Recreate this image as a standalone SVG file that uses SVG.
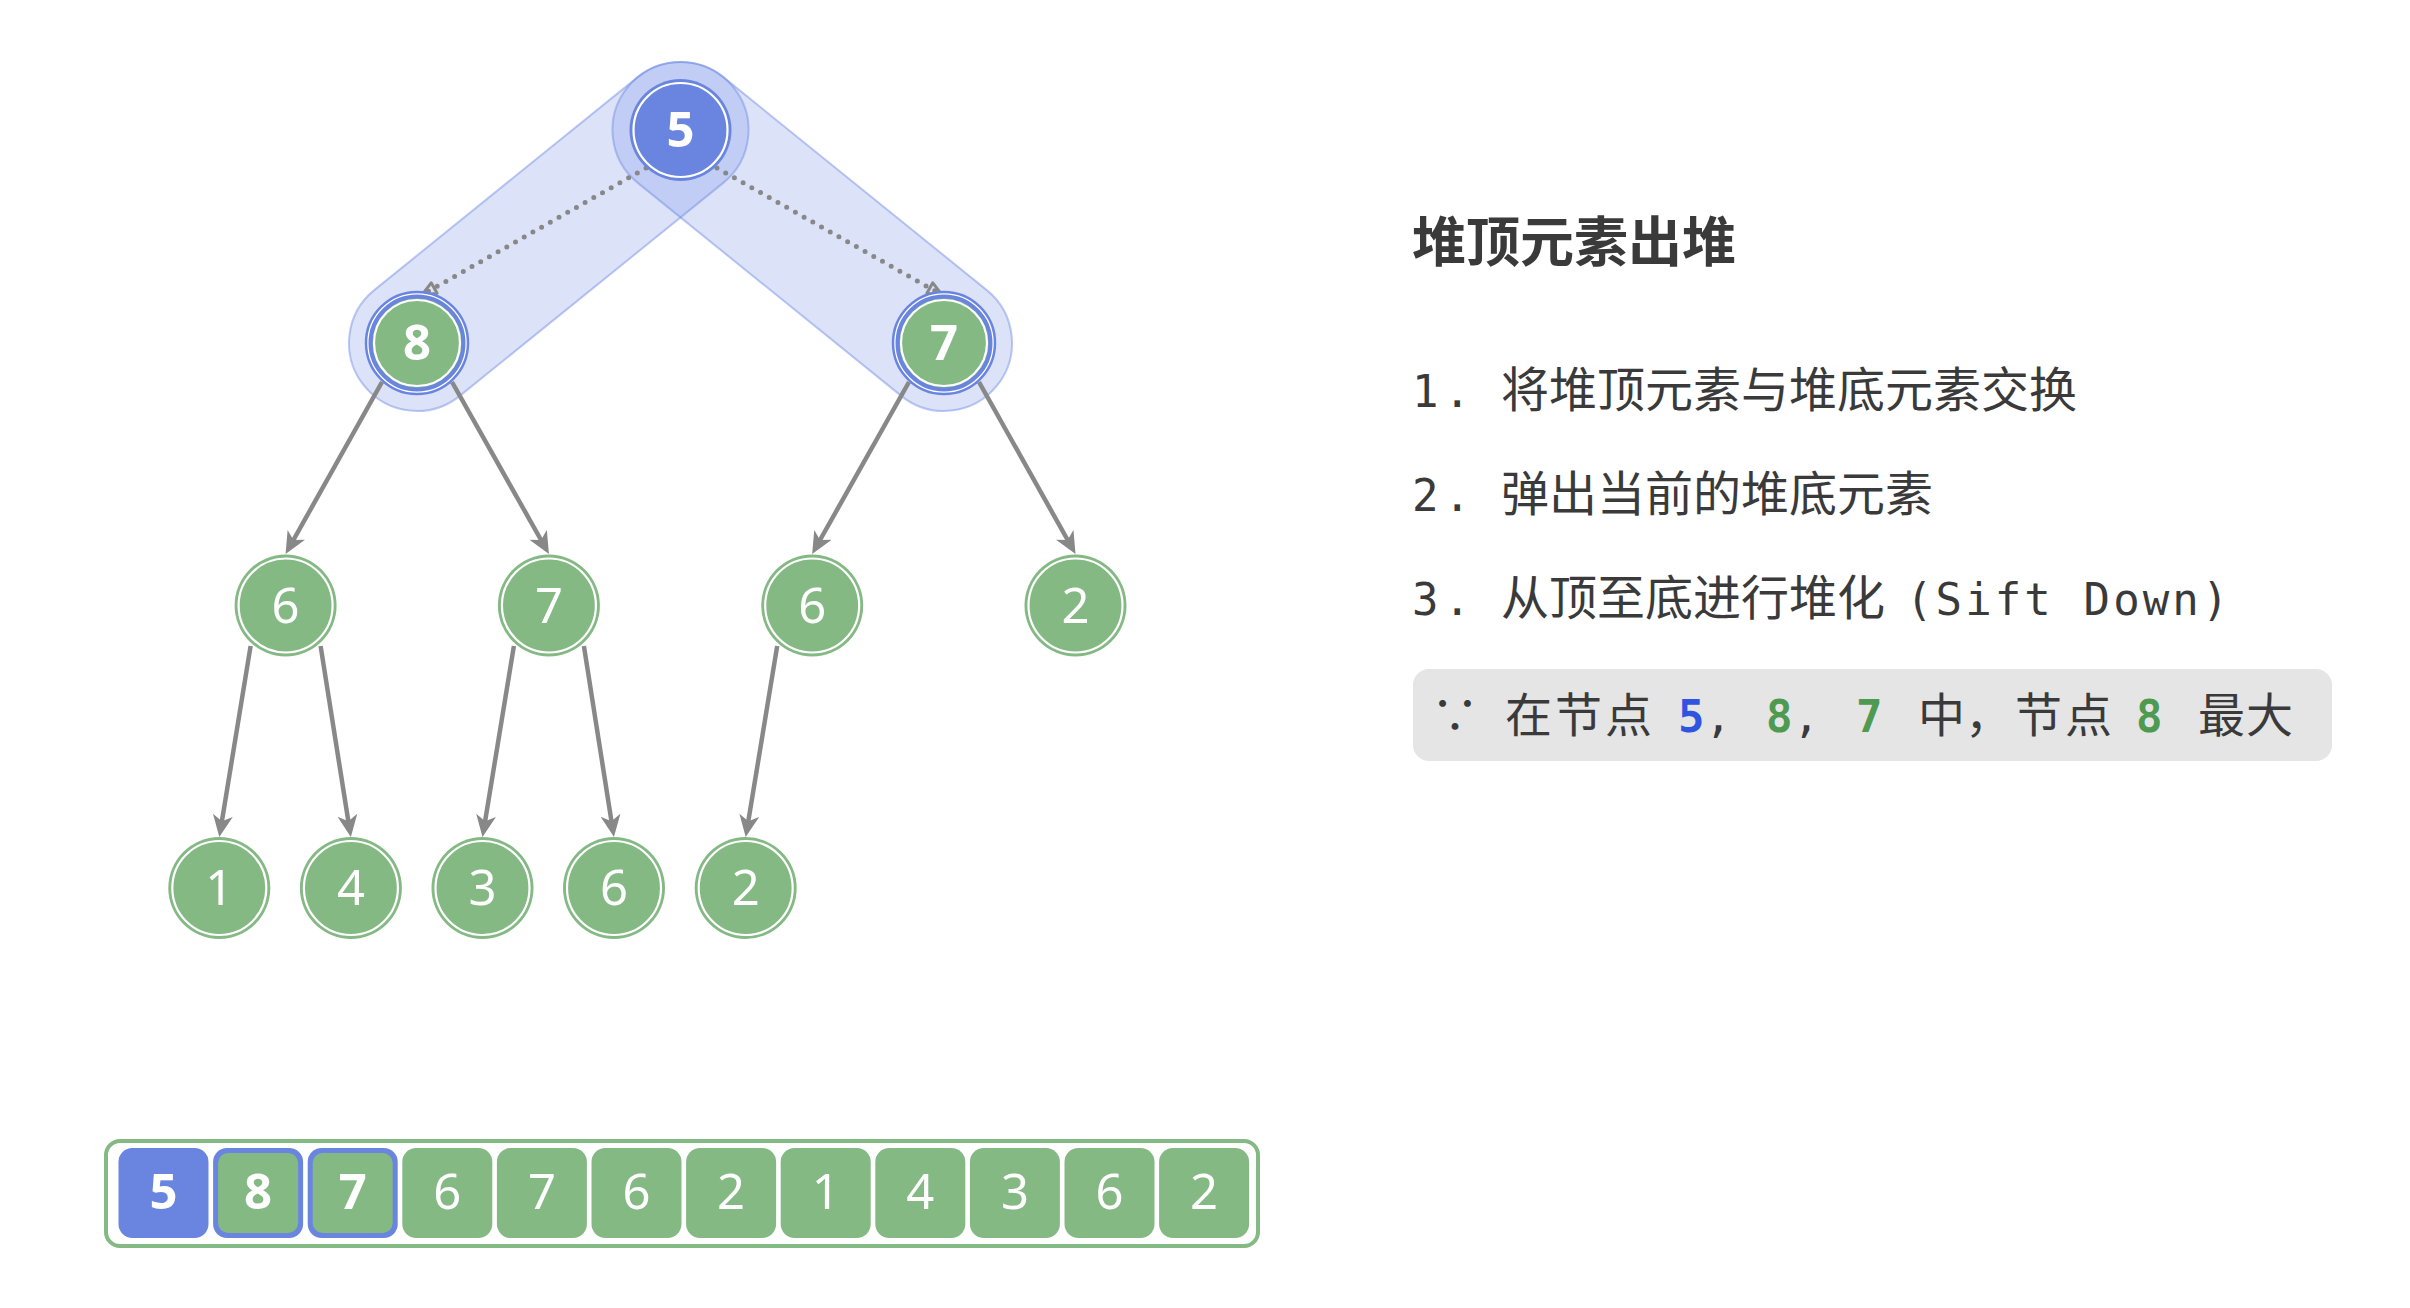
<svg xmlns="http://www.w3.org/2000/svg" width="2410" height="1308" viewBox="0 0 2410 1308">
<style>
.bg{fill:#ffffff}
.cap{fill:#6c88e4;fill-opacity:0.24;stroke:#6c88e4;stroke-opacity:0.45;stroke-width:2}
.edge{stroke:#888888;stroke-width:4.5;fill:none}
.dot{stroke:#888888;stroke-width:5;fill:none;stroke-dasharray:0 10;stroke-linecap:round}
.gfill{fill:#84b984}
.bfill{fill:#6a85e0}
.ring{fill:none;stroke:#ffffff;stroke-width:2.2}
.num{font-family:"Noto Sans","Liberation Sans",sans-serif;font-size:49px;fill:#ffffff;text-anchor:middle}
.b{font-weight:bold}
.cjk{font-family:"Noto Sans CJK SC","Noto Sans",sans-serif;fill:#3a3a3a}
.mono{font-family:"DejaVu Sans Mono","Liberation Mono",monospace;fill:#3a3a3a}
</style>
<defs>
<marker id="arr" markerUnits="userSpaceOnUse" markerWidth="24" markerHeight="22" refX="14" refY="10" orient="auto">
<path d="M0,0 L22,10 L0,20 L6,10 z" fill="#888888"/>
</marker>
<marker id="arrOpen" markerUnits="userSpaceOnUse" markerWidth="22" markerHeight="20" refX="10" refY="8" orient="auto">
<path d="M2,2 L16,8 L2,14 z" fill="none" stroke="#888888" stroke-width="3" stroke-linejoin="round"/>
</marker>
</defs>
<rect class="bg" x="0" y="0" width="2410" height="1308"/>

<g id="highlight">
<rect class="cap" x="-68" y="-68" width="474.8" height="136" rx="68" transform="translate(680.5,130) rotate(141.05)"/>
<rect class="cap" x="-68" y="-68" width="474.8" height="136" rx="68" transform="translate(680.5,130) rotate(38.95)"/>
</g>

<g id="connectors">
<path class="dot" d="M646,168 L427.2,292" marker-end="url(#arrOpen)"/>
<path class="dot" d="M717,168 L936.8,292" marker-end="url(#arrOpen)"/>
<path class="edge" d="M382,382 L289.5,547" marker-end="url(#arr)"/>
<path class="edge" d="M452,382 L545,547" marker-end="url(#arr)"/>
<path class="edge" d="M909,382 L816.1,547" marker-end="url(#arr)"/>
<path class="edge" d="M979,382 L1071.6,547" marker-end="url(#arr)"/>
<path class="edge" d="M250.6,646 L220.6,829.1" marker-end="url(#arr)"/>
<path class="edge" d="M320.6,646 L349.6,829.1" marker-end="url(#arr)"/>
<path class="edge" d="M513.9,646 L483.8,829.1" marker-end="url(#arr)"/>
<path class="edge" d="M583.9,646 L612.7,829.1" marker-end="url(#arr)"/>
<path class="edge" d="M777.2,646 L747,829.1" marker-end="url(#arr)"/>
</g>

<g id="node-root-5">
<circle class="bfill" cx="680.5" cy="130" r="51"/>
<circle class="ring" cx="680.5" cy="130" r="47"/>
<text class="num b" x="680.5" y="147">5</text>
</g>
<g id="node-8">
<circle cx="417" cy="343" r="51" fill="#ffffff" stroke="#6a85e0" stroke-width="2.5"/>
<circle class="gfill" cx="417" cy="343" r="46.5" stroke="#6a85e0" stroke-width="4"/>
<circle class="ring" cx="417" cy="343" r="43" stroke-width="1.5"/>
<text class="num b" x="417" y="360">8</text>
</g>
<g id="node-7">
<circle cx="944" cy="343" r="51" fill="#ffffff" stroke="#6a85e0" stroke-width="2.5"/>
<circle class="gfill" cx="944" cy="343" r="46.5" stroke="#6a85e0" stroke-width="4"/>
<circle class="ring" cx="944" cy="343" r="43" stroke-width="1.5"/>
<text class="num b" x="944" y="360">7</text>
</g>
<g id="node-6a">
<circle class="gfill" cx="285.6" cy="605.5" r="51"/>
<circle class="ring" cx="285.6" cy="605.5" r="47"/>
<text class="num" x="285.6" y="622.5">6</text>
</g>
<g id="node-7b">
<circle class="gfill" cx="548.9" cy="605.5" r="51"/>
<circle class="ring" cx="548.9" cy="605.5" r="47"/>
<text class="num" x="548.9" y="622.5">7</text>
</g>
<g id="node-6b">
<circle class="gfill" cx="812.2" cy="605.5" r="51"/>
<circle class="ring" cx="812.2" cy="605.5" r="47"/>
<text class="num" x="812.2" y="622.5">6</text>
</g>
<g id="node-2a">
<circle class="gfill" cx="1075.5" cy="605.5" r="51"/>
<circle class="ring" cx="1075.5" cy="605.5" r="47"/>
<text class="num" x="1075.5" y="622.5">2</text>
</g>
<g id="node-1">
<circle class="gfill" cx="219.3" cy="888" r="51"/>
<circle class="ring" cx="219.3" cy="888" r="47"/>
<text class="num" x="219.3" y="905">1</text>
</g>
<g id="node-4">
<circle class="gfill" cx="350.9" cy="888" r="51"/>
<circle class="ring" cx="350.9" cy="888" r="47"/>
<text class="num" x="350.9" y="905">4</text>
</g>
<g id="node-3">
<circle class="gfill" cx="482.5" cy="888" r="51"/>
<circle class="ring" cx="482.5" cy="888" r="47"/>
<text class="num" x="482.5" y="905">3</text>
</g>
<g id="node-6c">
<circle class="gfill" cx="614" cy="888" r="51"/>
<circle class="ring" cx="614" cy="888" r="47"/>
<text class="num" x="614" y="905">6</text>
</g>
<g id="node-2b">
<circle class="gfill" cx="745.7" cy="888" r="51"/>
<circle class="ring" cx="745.7" cy="888" r="47"/>
<text class="num" x="745.7" y="905">2</text>
</g>

<g id="array">
<rect x="106" y="1141" width="1152" height="105" rx="14" fill="#ffffff" stroke="#84b984" stroke-width="4"/>
<rect class="bfill" x="118.5" y="1148" width="90" height="90" rx="14"/>
<text class="num b" x="163.5" y="1209">5</text>
<rect class="bfill" x="213.1" y="1148" width="90" height="90" rx="14"/>
<rect class="gfill" x="218.1" y="1153" width="80" height="80" rx="10"/>
<text class="num b" x="258.1" y="1209">8</text>
<rect class="bfill" x="307.7" y="1148" width="90" height="90" rx="14"/>
<rect class="gfill" x="312.7" y="1153" width="80" height="80" rx="10"/>
<text class="num b" x="352.7" y="1209">7</text>
<rect class="gfill" x="402.3" y="1148" width="90" height="90" rx="14"/>
<text class="num" x="447.3" y="1209">6</text>
<rect class="gfill" x="496.9" y="1148" width="90" height="90" rx="14"/>
<text class="num" x="541.9" y="1209">7</text>
<rect class="gfill" x="591.5" y="1148" width="90" height="90" rx="14"/>
<text class="num" x="636.5" y="1209">6</text>
<rect class="gfill" x="686.1" y="1148" width="90" height="90" rx="14"/>
<text class="num" x="731.1" y="1209">2</text>
<rect class="gfill" x="780.7" y="1148" width="90" height="90" rx="14"/>
<text class="num" x="825.7" y="1209">1</text>
<rect class="gfill" x="875.3" y="1148" width="90" height="90" rx="14"/>
<text class="num" x="920.3" y="1209">4</text>
<rect class="gfill" x="969.9" y="1148" width="90" height="90" rx="14"/>
<text class="num" x="1014.9" y="1209">3</text>
<rect class="gfill" x="1064.5" y="1148" width="90" height="90" rx="14"/>
<text class="num" x="1109.5" y="1209">6</text>
<rect class="gfill" x="1159.1" y="1148" width="90" height="90" rx="14"/>
<text class="num" x="1204.1" y="1209">2</text>
</g>

<g id="description">
<text class="cjk" x="1412" y="262" font-size="54" font-weight="bold">堆顶元素出堆</text>
<text x="1412" y="407"><tspan class="mono" font-size="44" letter-spacing="5.5">1. </tspan><tspan class="cjk" x="1501" font-size="48">将堆顶元素与堆底元素交换</tspan></text>
<text x="1412" y="511"><tspan class="mono" font-size="44" letter-spacing="5.5">2. </tspan><tspan class="cjk" x="1501" font-size="48">弹出当前的堆底元素</tspan></text>
<text x="1412" y="615"><tspan class="mono" font-size="44" letter-spacing="5.5">3. </tspan><tspan class="cjk" x="1501" font-size="48">从顶至底进行堆化</tspan><tspan class="mono" x="1906" font-size="44" letter-spacing="3.1">(Sift Down)</tspan></text>
</g>

<g id="note">
<rect x="1413" y="669" width="919" height="92" rx="16" fill="#e5e5e5"/>
<text class="cjk" x="1455" y="732" font-size="47" text-anchor="middle">∵</text>
<text class="cjk" y="732" font-size="47" x="1505 1555 1605">在节点</text>
<text class="mono" y="732" font-size="44" font-weight="bold" x="1678" style="fill:#2f55e0">5</text>
<text class="mono" y="732" font-size="44" x="1705">,</text>
<text class="mono" y="732" font-size="44" font-weight="bold" x="1766" style="fill:#4e9a50">8</text>
<text class="mono" y="732" font-size="44" x="1793">,</text>
<text class="mono" y="732" font-size="44" font-weight="bold" x="1856" style="fill:#4e9a50">7</text>
<text class="cjk" y="732" font-size="47" x="1918 1965">中，</text>
<text class="cjk" y="732" font-size="47" x="2015 2065">节点</text>
<text class="mono" y="732" font-size="44" font-weight="bold" x="2136" style="fill:#4e9a50">8</text>
<text class="cjk" y="732" font-size="47" x="2198 2246">最大</text>
</g>
</svg>
